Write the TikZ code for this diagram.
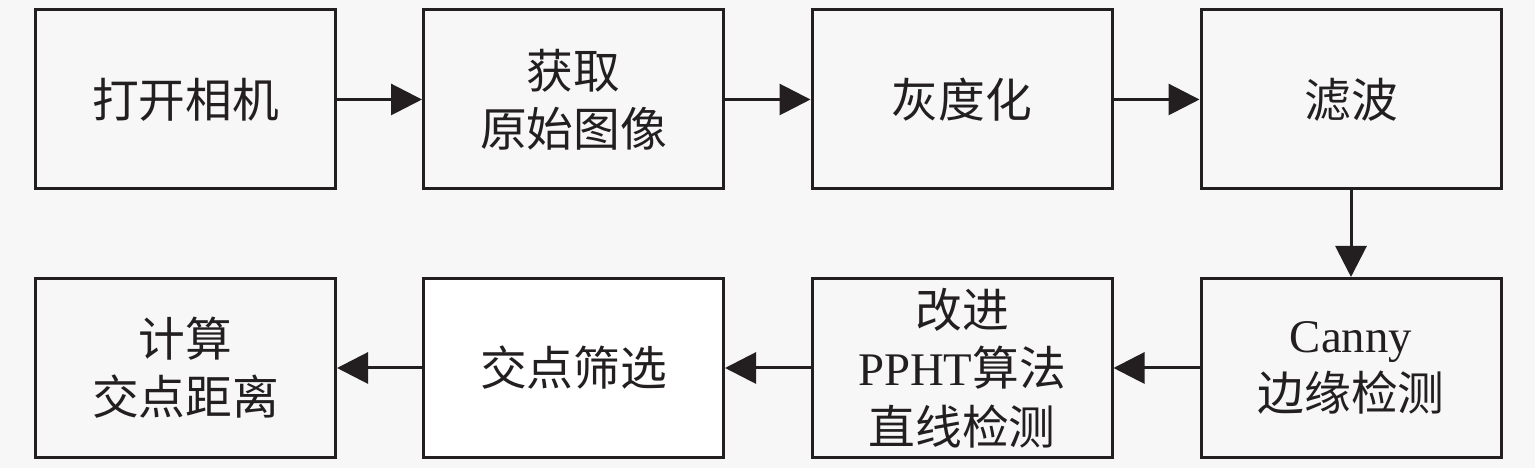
\documentclass[tikz,border=0pt]{standalone}
\usepackage{fontspec}
\setmainfont{Liberation Serif}
\newfontfamily\cjk{Noto Sans CJK SC}
\usepackage{xcolor}
\usetikzlibrary{arrows.meta}
\definecolor{ink}{HTML}{231F20}
\definecolor{bg}{HTML}{F7F7F7}
\tikzset{
  stepbox/.style={draw=ink, line width=0.03cm, minimum width=3cm, minimum height=1.79cm,
    inner sep=0pt, align=center, text=ink, font=\fontsize{13.3}{16.6}\selectfont},
  flow/.style={draw=ink, line width=0.03cm, -{Triangle[length=0.31cm,width=0.31cm]}}
}
\begin{document}
\begin{tikzpicture}
\fill [bg] (0, 0) rectangle (15.35, 4.68);
\useasboundingbox (0, 0) rectangle (15.35, 4.68);
\node [stepbox] (B1) at (1.855, 3.685) {\cjk 打开相机};
\node [stepbox] (B2) at (5.735, 3.685) {\cjk 获取\\\cjk 原始图像};
\node [stepbox] (B3) at (9.62, 3.685) {\cjk 灰度化};
\node [stepbox] (B4) at (13.51, 3.685) {\cjk 滤波};
\node [stepbox] (B5) at (13.51, 1.0) {Canny\\\cjk 边缘检测};
\node [stepbox] (B6) at (9.62, 1.0) {\cjk 改进\\PPHT{\cjk 算法}\\\cjk 直线检测};
\node [stepbox, fill=white] (B7) at (5.735, 1.0) {\cjk 交点筛选};
\node [stepbox] (B8) at (1.855, 1.0) {\cjk 计算\\\cjk 交点距离};
\draw [flow] (B1) -- (B2);
\draw [flow] (B2) -- (B3);
\draw [flow] (B3) -- (B4);
\draw [flow] (B4) -- (B5);
\draw [flow] (B5) -- (B6);
\draw [flow] (B6) -- (B7);
\draw [flow] (B7) -- (B8);
\end{tikzpicture}
\end{document}
